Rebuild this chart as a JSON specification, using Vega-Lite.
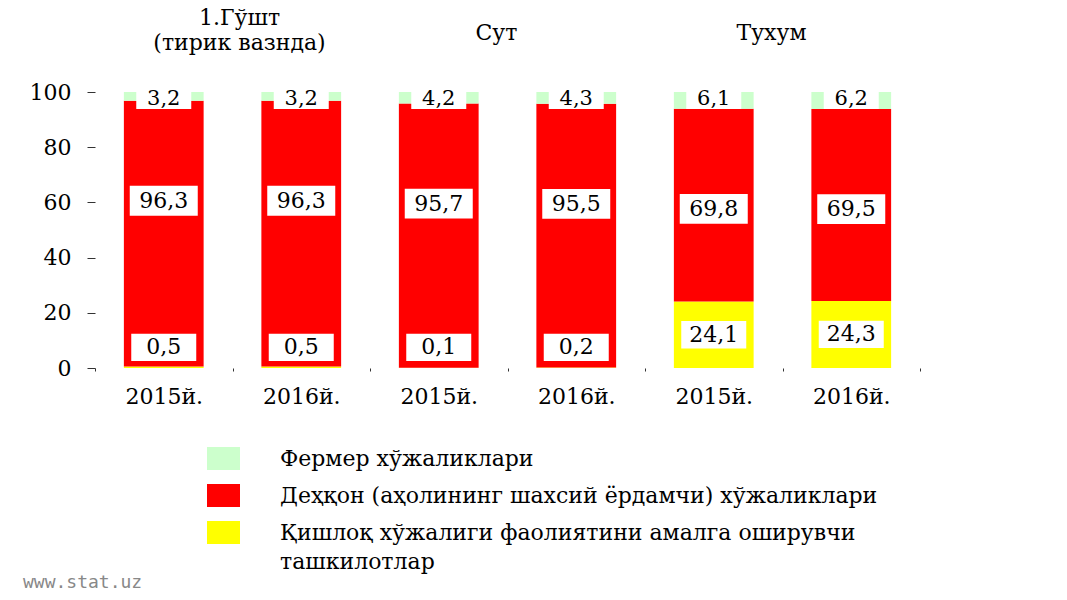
{
  "$schema": "https://vega.github.io/schema/vega-lite/v6.json",
  "width": 825,
  "height": 276,
  "autosize": "none",
  "padding": {"left": 95, "top": 92, "right": 147, "bottom": 232},
  "background": "white",
  "config": {
    "view": {"stroke": null},
    "font": "DejaVu Serif",
    "style": {"guide-label": {"lineHeight": 29}},
    "locale": {"number": {"decimal": ",", "thousands": " ", "grouping": [3], "currency": ["", ""]}}
  },
  "title": {"text": "www.stat.uz", "orient": "bottom", "anchor": "start", "frame": "group", "font": "DejaVu Sans Mono", "fontSize": 18, "fontWeight": "normal", "color": "#888888", "dx": -72, "offset": 1, "baseline": "top"},
  "datasets": {
    "bars": [
      {"bar": "Гўшт|2015й.", "series": "Қишлоқ хўжалиги фаолиятини амалга оширувчи ташкилотлар", "value": 0.5},
      {"bar": "Гўшт|2015й.", "series": "Деҳқон (аҳолининг шахсий ёрдамчи) хўжаликлари", "value": 96.3},
      {"bar": "Гўшт|2015й.", "series": "Фермер хўжаликлари", "value": 3.2},
      {"bar": "Гўшт|2016й.", "series": "Қишлоқ хўжалиги фаолиятини амалга оширувчи ташкилотлар", "value": 0.5},
      {"bar": "Гўшт|2016й.", "series": "Деҳқон (аҳолининг шахсий ёрдамчи) хўжаликлари", "value": 96.3},
      {"bar": "Гўшт|2016й.", "series": "Фермер хўжаликлари", "value": 3.2},
      {"bar": "Сут|2015й.", "series": "Қишлоқ хўжалиги фаолиятини амалга оширувчи ташкилотлар", "value": 0.1},
      {"bar": "Сут|2015й.", "series": "Деҳқон (аҳолининг шахсий ёрдамчи) хўжаликлари", "value": 95.7},
      {"bar": "Сут|2015й.", "series": "Фермер хўжаликлари", "value": 4.2},
      {"bar": "Сут|2016й.", "series": "Қишлоқ хўжалиги фаолиятини амалга оширувчи ташкилотлар", "value": 0.2},
      {"bar": "Сут|2016й.", "series": "Деҳқон (аҳолининг шахсий ёрдамчи) хўжаликлари", "value": 95.5},
      {"bar": "Сут|2016й.", "series": "Фермер хўжаликлари", "value": 4.3},
      {"bar": "Тухум|2015й.", "series": "Қишлоқ хўжалиги фаолиятини амалга оширувчи ташкилотлар", "value": 24.1},
      {"bar": "Тухум|2015й.", "series": "Деҳқон (аҳолининг шахсий ёрдамчи) хўжаликлари", "value": 69.8},
      {"bar": "Тухум|2015й.", "series": "Фермер хўжаликлари", "value": 6.1},
      {"bar": "Тухум|2016й.", "series": "Қишлоқ хўжалиги фаолиятини амалга оширувчи ташкилотлар", "value": 24.3},
      {"bar": "Тухум|2016й.", "series": "Деҳқон (аҳолининг шахсий ёрдамчи) хўжаликлари", "value": 69.5},
      {"bar": "Тухум|2016й.", "series": "Фермер хўжаликлари", "value": 6.2}
    ],
    "titles": [
      {"bar": "Гўшт|2015й.", "t": "1.Гўшт\n(тирик вазнда)"},
      {"bar": "Сут|2015й.", "t": "Сут"},
      {"bar": "Тухум|2015й.", "t": "Тухум"}
    ]
  },
  "encoding": {
    "x": {
      "field": "bar", "type": "nominal", "sort": null,
      "scale": {"domain": ["Гўшт|2015й.", "Гўшт|2016й.", "Сут|2015й.", "Сут|2016й.", "Тухум|2015й.", "Тухум|2016й."], "paddingInner": 0, "paddingOuter": 0},
      "axis": {"title": null, "domain": false, "ticks": true, "tickBand": "extent", "tickSize": 3, "tickColor": "#333333", "labelAngle": 0, "labelExpr": "split(datum.label, '|')[1]", "labelFont": "DejaVu Serif", "labelFontSize": 22, "labelColor": "black", "labelPadding": 15}
    }
  },
  "layer": [
    {
      "data": {"name": "bars"},
      "transform": [
        {"calculate": "indexof(['Қишлоқ хўжалиги фаолиятини амалга оширувчи ташкилотлар', 'Деҳқон (аҳолининг шахсий ёрдамчи) хўжаликлари', 'Фермер хўжаликлари'], datum.series)", "as": "k"},
        {"stack": "value", "groupby": ["bar"], "sort": [{"field": "k", "order": "ascending"}], "as": ["y0", "y1"]},
        {"calculate": "max((datum.y0 + datum.y1) / 2, 7.5)", "as": "ly"}
      ],
      "layer": [
        {
          "mark": {"type": "bar", "width": {"band": 0.58}},
          "encoding": {
            "y": {"field": "y0", "type": "quantitative", "title": null, "scale": {"domain": [0, 100], "nice": false},
              "axis": {"values": [0, 20, 40, 60, 80, 100], "grid": false, "domain": false, "tickSize": 8, "tickColor": "#333333", "labelFont": "DejaVu Serif", "labelFontSize": 22, "labelColor": "black", "labelPadding": 16}},
            "y2": {"field": "y1"},
            "color": {
              "field": "series", "type": "nominal",
              "scale": {"domain": ["Фермер хўжаликлари", "Деҳқон (аҳолининг шахсий ёрдамчи) хўжаликлари", "Қишлоқ хўжалиги фаолиятини амалга оширувчи ташкилотлар"], "range": ["#CCFFCC", "#FF0000", "#FFFF00"]},
              "legend": {"orient": "none", "legendX": 112, "legendY": 350, "title": null, "symbolType": "M-1,-0.7H1V0.7H-1Z", "symbolSize": 1089, "symbolStrokeWidth": 0, "symbolOpacity": 1, "labelFont": "DejaVu Serif", "labelFontSize": 22, "labelColor": "black", "labelLimit": 900, "labelOffset": 40, "rowPadding": 8,
                "labelExpr": "datum.label == 'Қишлоқ хўжалиги фаолиятини амалга оширувчи ташкилотлар' ? ['Қишлоқ хўжалиги фаолиятини амалга оширувчи', 'ташкилотлар'] : datum.label"}
            }
          }
        },
        {
          "transform": [{"filter": "datum.series == 'Фермер хўжаликлари'"}],
          "encoding": {"y": {"field": "y1", "type": "quantitative", "title": null}},
          "layer": [
            {"mark": {"type": "point", "shape": "M-1,-0.36H1V0.36H-1Z", "size": 3025, "filled": true, "color": "white", "opacity": 1, "strokeWidth": 0, "yOffset": 7}},
            {"mark": {"type": "text", "font": "DejaVu Serif", "fontSize": 21, "color": "black", "baseline": "middle", "yOffset": 7}, "encoding": {"text": {"field": "value", "type": "quantitative", "format": ".1f"}}}
          ]
        },
        {
          "transform": [{"filter": "datum.series == 'Деҳқон (аҳолининг шахсий ёрдамчи) хўжаликлари'"}],
          "encoding": {"y": {"field": "y1", "type": "quantitative", "title": null}},
          "layer": [
            {"mark": {"type": "point", "shape": "M-1,-0.44H1V0.44H-1Z", "size": 4624, "filled": true, "color": "white", "opacity": 1, "strokeWidth": 0, "yOffset": 100}},
            {"mark": {"type": "text", "font": "DejaVu Serif", "fontSize": 22, "color": "black", "baseline": "middle", "yOffset": 100}, "encoding": {"text": {"field": "value", "type": "quantitative", "format": ".1f"}}}
          ]
        },
        {
          "transform": [{"filter": "datum.series == 'Қишлоқ хўжалиги фаолиятини амалга оширувчи ташкилотлар'"}],
          "encoding": {"y": {"field": "ly", "type": "quantitative", "title": null}},
          "layer": [
            {"mark": {"type": "point", "shape": "M-1,-0.42H1V0.42H-1Z", "size": 4225, "filled": true, "color": "white", "opacity": 1, "strokeWidth": 0}},
            {"mark": {"type": "text", "font": "DejaVu Serif", "fontSize": 22, "color": "black", "baseline": "middle"}, "encoding": {"text": {"field": "value", "type": "quantitative", "format": ".1f"}}}
          ]
        }
      ]
    },
    {
      "data": {"name": "titles"},
      "transform": [{"filter": "datum.bar == 'Гўшт|2015й.'"}],
      "mark": {"type": "text", "font": "DejaVu Serif", "fontSize": 22, "color": "black", "baseline": "middle", "lineBreak": "\n", "lineHeight": 25, "yOffset": -74, "xOffset": 7},
      "encoding": {
        "x": {"field": "bar", "type": "nominal", "bandPosition": 1},
        "y": {"datum": 100, "type": "quantitative"},
        "text": {"field": "t", "type": "nominal"}
      }
    },
    {
      "data": {"name": "titles"},
      "transform": [{"filter": "datum.bar != 'Гўшт|2015й.'"}],
      "mark": {"type": "text", "font": "DejaVu Serif", "fontSize": 22, "color": "black", "baseline": "middle", "yOffset": -59, "xOffset": -11},
      "encoding": {
        "x": {"field": "bar", "type": "nominal", "bandPosition": 1},
        "y": {"datum": 100, "type": "quantitative"},
        "text": {"field": "t", "type": "nominal"}
      }
    }
  ]
}
